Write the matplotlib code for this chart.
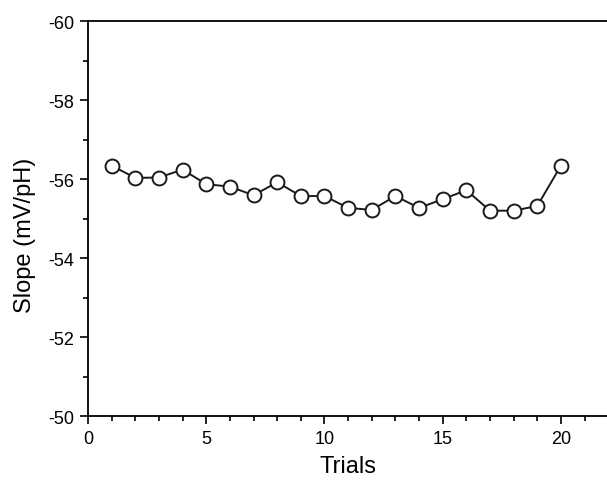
import numpy as np
import matplotlib.pyplot as plt
from matplotlib.ticker import MultipleLocator

plt.rcParams['font.family'] = ['Liberation Sans', 'DejaVu Sans']
plt.rcParams['axes.unicode_minus'] = False

trials = np.arange(1, 21)
slope = [-56.34, -56.03, -56.04, -56.24, -55.87, -55.81, -55.59, -55.92, -55.57, -55.57,
         -55.27, -55.22, -55.57, -55.27, -55.49, -55.72, -55.20, -55.20, -55.32, -56.34]

fig = plt.figure(figsize=(6.07, 4.81), dpi=100)
ax = fig.add_axes([0.145, 0.133, 0.857, 0.821])

ax.plot(trials, slope, '-o', color='#1a1a1a', lw=1.4, ms=10,
        mfc='white', mec='#1a1a1a', mew=1.4)

ax.set_xlim(0, 22)
ax.set_ylim(-50, -60)
ax.xaxis.set_major_locator(MultipleLocator(5))
ax.xaxis.set_minor_locator(MultipleLocator(1))
ax.yaxis.set_major_locator(MultipleLocator(2))
ax.yaxis.set_minor_locator(MultipleLocator(1))
ax.tick_params(which='major', direction='out', length=6, width=1.2, labelsize=13, pad=4)
ax.tick_params(which='minor', direction='out', length=3.5, width=1.2)
for s in ax.spines.values():
    s.set_linewidth(1.3)
ax.spines['right'].set_visible(False)

ax.set_xlabel('Trials', fontsize=17, labelpad=6)
ax.set_ylabel('Slope (mV/pH)', fontsize=17)
ax.yaxis.set_label_coords(-0.1, 0.461)

fig.savefig('out.png', dpi=100)
